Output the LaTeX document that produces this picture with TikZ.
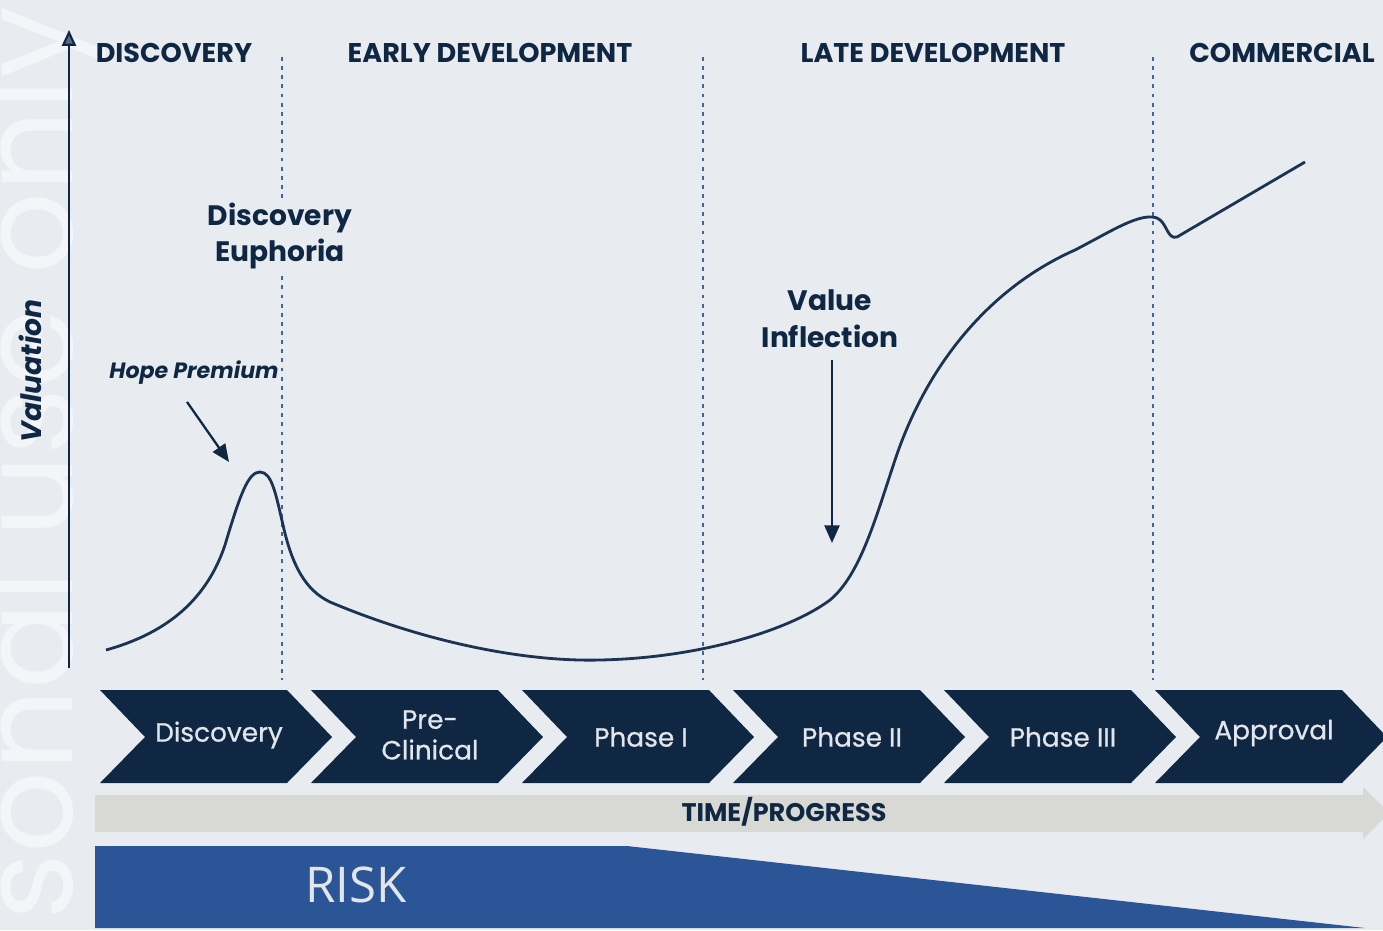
\documentclass[tikz,border=0pt]{standalone}
\usepackage{fontspec}
\setmainfont{Poppins}
\newfontfamily\medfont{Poppins}[FakeBold=0.7]
\newfontfamily\riskfont{Open Sans}
\usetikzlibrary{arrows.meta}

\definecolor{bgcol}{HTML}{E8ECF1}
\definecolor{navy}{HTML}{0F2743}
\definecolor{curvecol}{HTML}{1C3352}
\definecolor{slate}{HTML}{5B6C82}
\definecolor{dotcol}{HTML}{3D63AA}
\definecolor{riskcol}{HTML}{2C5597}
\definecolor{barcol}{HTML}{D8D9D4}
\definecolor{chevtext}{HTML}{E2E5EA}
\definecolor{markcol}{HTML}{F3F5F8}

\tikzset{
  header/.style={font=\bfseries\fontsize{15.4}{18}\selectfont, text=navy, inner sep=0pt},
  callout/.style={font=\bfseries\fontsize{16}{21}\selectfont, text=navy, align=center},
  stagetext/.style={font=\medfont\fontsize{15}{17.5}\selectfont, text=chevtext, align=center, inner sep=0pt},
  divider/.style={dotcol, line width=1.1pt, dash pattern=on 2.2pt off 3pt},
  pointer/.style={navy, line width=1.3pt, -{Triangle[length=10pt,width=8.5pt]}},
  axisline/.style={navy, line width=1.2pt, -{Triangle[length=9pt,width=8pt,fill=slate]}},
}

\begin{document}
\begin{tikzpicture}[x=0.02cm, y=-0.02cm]
  \useasboundingbox (0,0) rectangle (1383,930);
  \fill[bgcol] (0,0) rectangle (1383,930);

  % watermark
  \node[rotate=90, anchor=base east, inner sep=0pt, text=markcol,
        font=\fontsize{73}{73}\selectfont] (mark) at (72,6) {sonal use only};

  % risk wedge and time bar
  \fill[riskcol] (95,846) -- (627,846) -- (1365,928) -- (95,928) -- cycle;
  \node[font=\riskfont\fontsize{28}{30}\selectfont, text=chevtext] (risk) at (356,885) {RISK};

  \fill[barcol] (95,795) -- (1363,795) -- (1363,787) -- (1389,813) -- (1363,839) -- (1363,832) -- (95,832) -- cycle;
  \node[font=\bfseries\fontsize{14.5}{16}\selectfont, text=navy] (progress) at (784,812) {TIME/PROGRESS};

  % stages
  \foreach \x/\name/\txt/\ty in {100/sdisc/Discovery/735, 311/spre/{Pre-\\Clinical}/735,
      522/sphone/Phase I/737, 733/sphtwo/Phase II/737, 944/sphthree/Phase III/737,
      1155/sappr/Approval/733} {
    \fill[navy] (\x,690) -- ++(187,0) -- ++(45,47) -- ++(-45,46) -- ++(-187,0) -- ++(45,-46) -- cycle;
    \node[stagetext] (\name) at (\x+119,\ty) {\txt};
  }

  % phase dividers
  \foreach \xd in {282,703,1153}
    \draw[divider] (\xd,57) -- (\xd,680);

  \node[header] (hdisc) at (174,53) {DISCOVERY};
  \node[header] (hearly) at (490,53) {EARLY DEVELOPMENT};
  \node[header] (hlate) at (933,53) {LATE DEVELOPMENT};
  \node[header] (hcomm) at (1282,53) {COMMERCIAL};

  % axis
  \coordinate (origin) at (69,668);
  \coordinate (ytop) at (69,30);
  \draw[axisline] (origin) -- (ytop);
  \node[rotate=90, font=\bfseries\itshape\fontsize{16}{18}\selectfont, text=navy] (valaxis) at (30,371) {Valuation};

  % valuation curve
  \draw[curvecol, line width=1.6pt]
    (106,650) .. controls (160,635) and (205,605) .. (225,545)
    .. controls (240,495) and (248,472) .. (260,472)
    .. controls (272,472) and (276,495) .. (283,525)
    .. controls (292,565) and (305,590) .. (330,602)
    .. controls (420,640) and (520,662) .. (600,660)
    .. controls (700,658) and (790,630) .. (830,600)
    .. controls (860,575) and (875,520) .. (895,460)
    .. controls (925,370) and (985,290) .. (1075,250)
    .. controls (1110,232) and (1140,212) .. (1157,218)
    .. controls (1167,222) and (1167,240) .. (1177,237)
    -- (1305,162);

  \node[callout, fill=bgcol, inner sep=2pt] (euphoria) at (280,236) {Discovery\\Euphoria};
  \node[callout] (inflect) at (830,319) {Value\\Inflection};
  \node[font=\bfseries\itshape\fontsize{12.6}{14}\selectfont, text=navy, inner sep=1pt] (hope) at (194,373) {Hope Premium};

  \coordinate (hopetip) at (229,462);
  \coordinate (inflecttip) at (832,543);
  \draw[pointer] ([shift={(-7,15)}]hope.south) -- (hopetip);
  \draw[pointer] ([shift={(2,6)}]inflect.south) -- (inflecttip);
\end{tikzpicture}
\end{document}
